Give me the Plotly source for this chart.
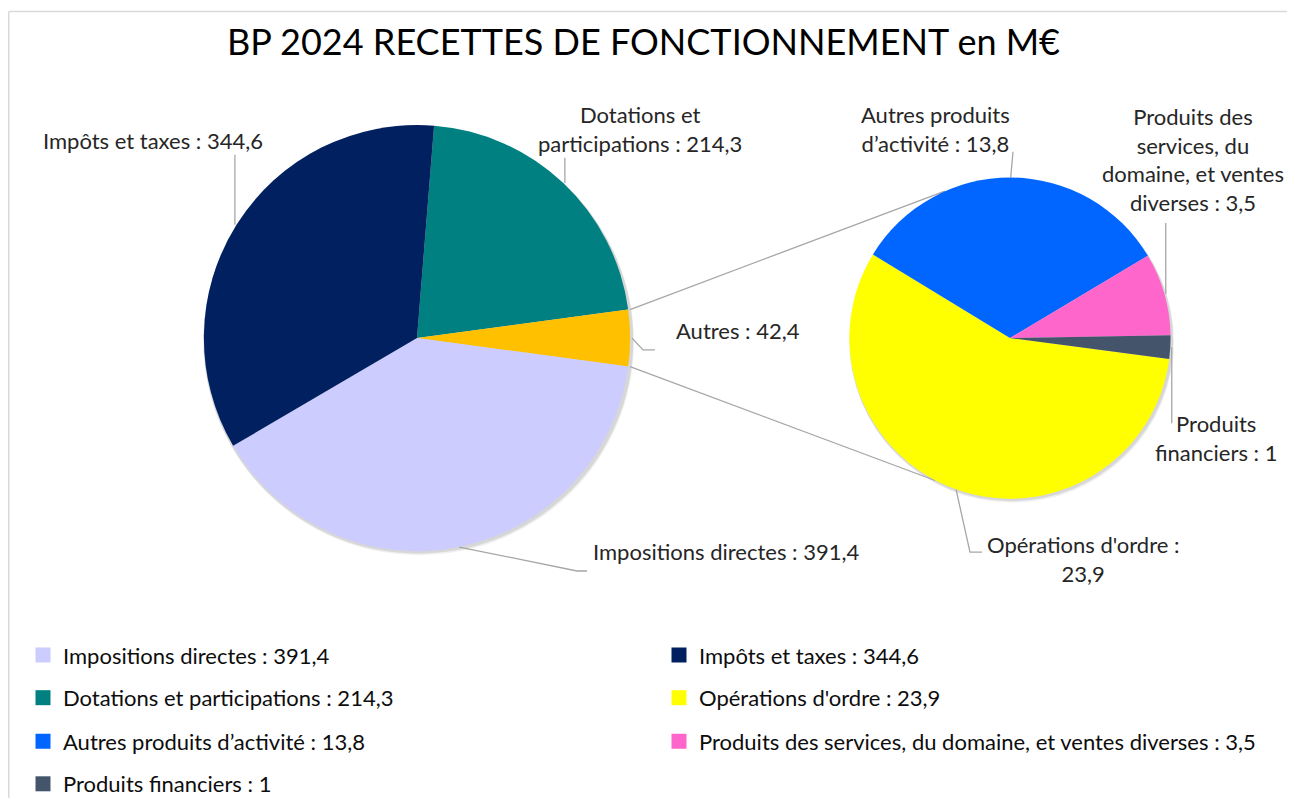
import math
import plotly.graph_objects as go

# ---------------- data ----------------
main_labels = ["Dotations et participations", "Autres", "Impositions directes", "Impôts et taxes"]
main_values = [214.3, 42.4, 391.4, 344.6]
main_colors = ["#008080", "#FFC000", "#CCCCFF", "#002060"]

sub_labels = ["Opérations d'ordre", "Autres produits d’activité",
              "Produits des services, du domaine, et ventes diverses", "Produits financiers"]
sub_values = [23.9, 13.8, 3.5, 1]
sub_colors = ["#FFFF00", "#0066FF", "#FF66CC", "#44546A"]

legend_names = ["Impositions directes", "Impôts et taxes", "Dotations et participations",
                "Opérations d'ordre", "Autres produits d’activité",
                "Produits des services, du domaine, et ventes diverses", "Produits financiers"]

title_text = "BP 2024 RECETTES DE FONCTIONNEMENT en M€"

# data-label text templates (line breaks as in the original)
label_fmt = {
    "Impôts et taxes": "Impôts et taxes : {v}",
    "Dotations et participations": "Dotations et<br>participations : {v}",
    "Autres": "Autres : {v}",
    "Impositions directes": "Impositions directes : {v}",
    "Autres produits d’activité": "Autres produits<br>d’activité : {v}",
    "Produits des services, du domaine, et ventes diverses": "Produits des<br>services, du<br>domaine, et ventes<br>diverses : {v}",
    "Produits financiers": "Produits<br>financiers : {v}",
    "Opérations d'ordre": "Opérations d'ordre :<br>{v}",
}

# ---------------- layout constants (screen pixels) ----------------
PAGE_OFF = 8                      # default page margin of the html body
W, H = 1295 - PAGE_OFF, 805 - PAGE_OFF
FONT = "Lato, 'Open Sans', sans-serif"
TXT = "#262626"
LEAD = "#A6A6A6"
MAIN_C, MAIN_R = (417, 341), 215
SUB_C, SUB_R = (1010, 341), 162
SUB_ROT = 97.5
CONN_ANG = (336.3, 207.5)  # where the connector lines meet the secondary pie

# label placement: (center x, center y) and leader waypoints after the slice edge point
label_pos = {
    "Impôts et taxes": ((153, 142), [(None, 156)]),
    "Dotations et participations": ((640, 130), [(None, 159)]),
    "Autres": ((738, 333), [(643, 353), (655, 353)]),
    "Impositions directes": ((726, 556), [(577, 576), (587, 576)]),
    "Autres produits d’activité": ((935, 130), [(1013, 153)]),
    "Produits des services, du domaine, et ventes diverses": ((1193, 161), [(None, 225)]),
    "Produits financiers": ((1216, 442), [(None, 427)]),
    "Opérations d'ordre": ((1083, 564), [(970, 557), (982, 557)]),
}
legend_rows_y = [661, 704, 748, 791]


def px(x):
    return (x - PAGE_OFF) / W


def py(y):
    return 1 - (y - PAGE_OFF) / H


def fr(v):
    return f"{v:g}".replace(".", ",")


def edge(c, r, ang):
    a = math.radians(ang)
    return (c[0] + r * math.sin(a), c[1] - r * math.cos(a))


def mid_angles(values, rot):
    tot = sum(values)
    out, cum = [], rot
    for v in values:
        span = v / tot * 360
        out.append((cum, cum + span, cum + span / 2))
        cum += span
    return out


# rotation so that the "Autres" slice is centred at 3 o'clock
tot_main = sum(main_values)
i_aut = main_labels.index("Autres")
MAIN_ROT = 90 - (sum(main_values[:i_aut]) + main_values[i_aut] / 2) / tot_main * 360

main_ang = mid_angles(main_values, MAIN_ROT)
sub_ang = mid_angles(sub_values, SUB_ROT)


def dom(c, r):
    return dict(x=[px(c[0] - r), px(c[0] + r)], y=[py(c[1] + r), py(c[1] - r)])


fig = go.Figure()

fig.add_trace(go.Pie(labels=main_labels, values=main_values, sort=False, direction="clockwise",
                     rotation=MAIN_ROT, marker=dict(colors=main_colors, line=dict(width=0)),
                     textinfo="none", domain=dom(MAIN_C, MAIN_R), showlegend=False,
                     hoverinfo="label+value"))
fig.add_trace(go.Pie(labels=sub_labels, values=sub_values, sort=False, direction="clockwise",
                     rotation=SUB_ROT, marker=dict(colors=sub_colors, line=dict(width=0)),
                     textinfo="none", domain=dom(SUB_C, SUB_R), showlegend=False,
                     hoverinfo="label+value"))

# legend entries
all_vals = dict(zip(main_labels + sub_labels, main_values + sub_values))
all_cols = dict(zip(main_labels + sub_labels, main_colors + sub_colors))
legend_ids = ["legend", "legend2", "legend3", "legend4"]
for i, n in enumerate(legend_names):
    fig.add_trace(go.Scatter(x=[None], y=[None], mode="markers", name=f"{n} : {fr(all_vals[n])}",
                             marker=dict(symbol="square", size=15, color=all_cols[n]),
                             legend=legend_ids[i // 2], hoverinfo="skip"))

shapes = []
annotations = []

# chart border (only the top and left edges fall inside the picture)
BORDER = dict(color="#D9D9D9", width=1.5)
shapes.append(dict(type="line", xref="paper", yref="paper", x0=px(8.75), x1=px(1295),
                   y0=py(11.5), y1=py(11.5), line=BORDER, layer="below"))
shapes.append(dict(type="line", xref="paper", yref="paper", x0=px(8.75), x1=px(8.75),
                   y0=py(11.5), y1=py(805), line=BORDER, layer="below"))

# soft shadows under both pies
for c, r in ((MAIN_C, MAIN_R), (SUB_C, SUB_R)):
    for off, op in ((4, 0.06), (2.5, 0.10)):
        shapes.append(dict(type="circle", xref="paper", yref="paper",
                           x0=px(c[0] - r + off * 0.5), x1=px(c[0] + r + off * 0.5),
                           y0=py(c[1] + r + off), y1=py(c[1] - r + off),
                           fillcolor=f"rgba(0,0,0,{op})", line=dict(width=0), layer="below"))

# connector lines from the "Autres" slice to the secondary pie
a0, a1, _ = main_ang[i_aut]
for a_main, a_sub in ((a0, CONN_ANG[0]), (a1, CONN_ANG[1])):
    p = edge(MAIN_C, MAIN_R, a_main)
    q = edge(SUB_C, SUB_R, a_sub)
    shapes.append(dict(type="line", xref="paper", yref="paper", x0=px(p[0]), y0=py(p[1]),
                       x1=px(q[0]), y1=py(q[1]), line=dict(color=LEAD, width=1.3), layer="below"))

# data labels + leader lines
for labels, values, angs, c, r in ((main_labels, main_values, main_ang, MAIN_C, MAIN_R),
                                   (sub_labels, sub_values, sub_ang, SUB_C, SUB_R)):
    for n, v, (_, _, am) in zip(labels, values, angs):
        (lx, ly), pts = label_pos[n]
        s = edge(c, r, am)
        path_pts = [s]
        for (x, y) in pts:
            path_pts.append((s[0] if x is None else x, y))
        d = "M " + " L ".join(f"{px(x):.5f},{py(y):.5f}" for x, y in path_pts)
        shapes.append(dict(type="path", xref="paper", yref="paper", path=d,
                           line=dict(color=LEAD, width=1.3)))
        annotations.append(dict(text=label_fmt[n].format(v=fr(v)), x=px(lx), y=py(ly),
                                xref="paper", yref="paper", xanchor="center", yanchor="middle",
                                showarrow=False, align="center",
                                font=dict(family=FONT, size=22, color=TXT)))

legend_common = dict(orientation="h", xanchor="left", yanchor="middle", x=px(23),
                     entrywidth=591, entrywidthmode="pixels", bgcolor="rgba(0,0,0,0)",
                     font=dict(family=FONT, size=22, color="#0D0D0D"), itemclick=False,
                     itemdoubleclick=False)
legends = {}
for lid, yrow in zip(legend_ids, legend_rows_y):
    legends[lid] = dict(legend_common, y=py(yrow))

fig.update_layout(
    width=W, height=H,
    margin=dict(l=0, r=0, t=0, b=0),
    paper_bgcolor="white", plot_bgcolor="white",
    title=dict(text=title_text, x=px(643.5), xanchor="center", y=py(42), yanchor="middle",
               font=dict(family=FONT, size=36, color="#000000")),
    xaxis=dict(visible=False), yaxis=dict(visible=False),
    shapes=shapes, annotations=annotations,
    **legends,
)

fig.write_html("out.html")
